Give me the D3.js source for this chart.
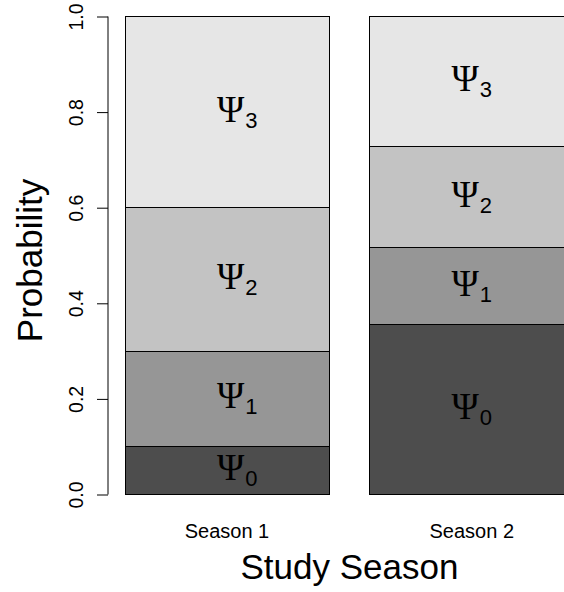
<!DOCTYPE html>
<html>
<head>
<meta charset="utf-8">
<script src="https://cdn.jsdelivr.net/npm/d3@7"></script>
<style>
  html, body { margin: 0; padding: 0; background: #fff; }
  svg { display: block; }
</style>
</head>
<body>
<svg id="chart" width="564" height="592"></svg>
<script>
// Occupancy-state probabilities per study season (stacked to 1)
const seasons = ["Season 1", "Season 2"];
const states = ["0", "1", "2", "3"];
const psi0 = [0.10, 0.356];
const psi1 = [0.20, 0.160];
const psi2 = [0.30, 0.211];
const psi3 = [0.40, 0.273];
const stateColors = ["#4D4D4D", "#969696", "#C3C3C3", "#E6E6E6"];
const yTicks = [0, 0.2, 0.4, 0.6, 0.8, 1.0];

const rows = seasons.map((s, i) => ({
  season: s, "0": psi0[i], "1": psi1[i], "2": psi2[i], "3": psi3[i]
}));
const stacked = d3.stack().keys(states)(rows);

const svg = d3.select("#chart");

// barplot-style user coordinates: bars of width 1 separated by 0.2
const xUser = d3.scaleLinear().domain([0, 2.6]).range([84.2, 614.6]);
const barLeft = i => 0.2 + i * 1.2;
const barCenter = i => barLeft(i) + 0.5;
const labelX = [0.75, 1.9];
const y = d3.scaleLinear().domain([0, 1]).range([494.5, 16.5]);

const plot = svg.append("g");

// stacked segments
stacked.forEach((layer, k) => {
  plot.selectAll(null)
    .data(layer)
    .enter()
    .append("rect")
    .attr("x", (d, i) => xUser(barLeft(i)))
    .attr("width", (d, i) => xUser(barLeft(i) + 1) - xUser(barLeft(i)))
    .attr("y", d => y(d[1]))
    .attr("height", d => y(d[0]) - y(d[1]))
    .attr("fill", stateColors[k])
    .attr("stroke", "#000")
    .attr("stroke-width", 1)
    .attr("shape-rendering", "crispEdges");
});

// Ψ labels at segment midpoints
stacked.forEach((layer, k) => {
  layer.forEach((d, i) => {
    const mid = y((d[0] + d[1]) / 2);
    const t = plot.append("text")
      .attr("x", xUser(labelX[i]))
      .attr("y", mid + 9.5)
      .attr("text-anchor", "middle")
      .attr("fill", "#000");
    t.append("tspan")
      .attr("font-family", "'Liberation Serif', 'DejaVu Serif', serif")
      .attr("font-size", 37)
      .text("\u03A8");
    t.append("tspan")
      .attr("font-family", "'Liberation Sans', Arial, sans-serif")
      .attr("font-size", 22)
      .attr("dx", 1)
      .attr("dy", 6)
      .text(states[k]);
  });
});

// y axis
const axisX = 108;
const yAxis = svg.append("g").attr("transform", `translate(${axisX},0)`);
yAxis.call(d3.axisLeft(y).tickValues(yTicks).tickSize(11).tickFormat(d3.format(".1f")));
yAxis.select(".domain").attr("d", `M0,${y(0)}V${y(1)}`).attr("stroke", "#000");
yAxis.selectAll(".tick line").attr("stroke", "#000");
yAxis.selectAll(".tick text")
  .attr("font-family", "'Liberation Sans', Arial, sans-serif")
  .attr("font-size", 19.5)
  .attr("fill", "#000")
  .attr("text-anchor", "middle")
  .attr("x", 0).attr("y", 0).attr("dy", 0)
  .attr("transform", "translate(-25,0) rotate(-90)");

// category labels
svg.selectAll(".cat")
  .data(seasons)
  .enter()
  .append("text")
  .attr("x", (d, i) => xUser(barCenter(i)))
  .attr("y", 538)
  .attr("text-anchor", "middle")
  .attr("font-family", "'Liberation Sans', Arial, sans-serif")
  .attr("font-size", 20)
  .attr("fill", "#000")
  .text(d => d);

// axis titles
svg.append("text")
  .attr("x", xUser(1.3))
  .attr("y", 579)
  .attr("text-anchor", "middle")
  .attr("font-family", "'Liberation Sans', Arial, sans-serif")
  .attr("font-size", 35)
  .attr("fill", "#000")
  .text("Study Season");

svg.append("text")
  .attr("transform", `translate(42,${(y(0) + y(1)) / 2 + 5}) rotate(-90)`)
  .attr("text-anchor", "middle")
  .attr("font-family", "'Liberation Sans', Arial, sans-serif")
  .attr("font-size", 35)
  .attr("fill", "#000")
  .text("Probability");
</script>
</body>
</html>
